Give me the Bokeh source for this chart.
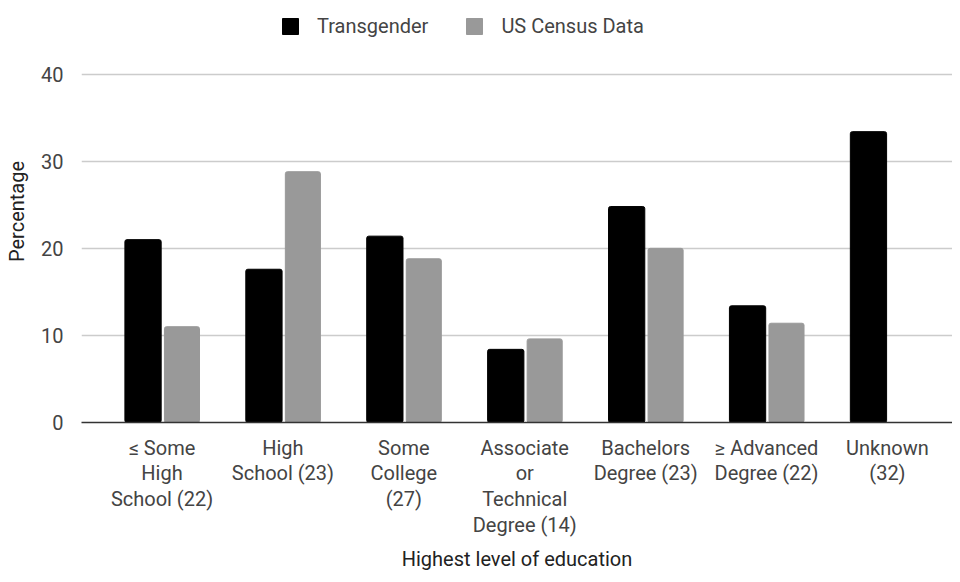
import numpy as np
from bokeh.plotting import figure
from bokeh.models import Range1d, FixedTicker, Legend, LegendItem, ColumnDataSource
from bokeh.embed import file_html
from bokeh.resources import INLINE

categories = ["≤ Some\nHigh\nSchool (22)", "High\nSchool (23)", "Some\nCollege\n(27)",
              "Associate\nor\nTechnical\nDegree (14)", "Bachelors\nDegree (23)",
              "≥ Advanced\nDegree (22)", "Unknown\n(32)"]
transgender = [21.0, 17.6, 21.4, 8.4, 24.8, 13.4, 33.4]
census = [11.0, 28.8, 18.8, 9.6, 20.0, 11.4, None]
y_ticks = [0, 10, 20, 30, 40]

FONT = "Roboto"
idx = np.arange(len(categories), dtype=float)

# frame spans the full top (legend sits inside it, above the 40 gridline)
p = figure(width=952, height=574, output_backend="svg", toolbar_location=None,
           x_range=Range1d(-0.666, 6.538), y_range=Range1d(0, 48.46),
           min_border_left=81, min_border_right=0, min_border_top=0, min_border_bottom=150)
p.outline_line_color = None

src_t = ColumnDataSource(dict(x=idx - 0.157, top=transgender))
src_c = ColumnDataSource(dict(x=idx + 0.165, top=np.array(census, dtype=float)))
r_t = p.vbar(x="x", top="top", bottom=0, width=0.30, source=src_t,
             fill_color="#000000", line_color="#000000", border_radius=2)
r_c = p.vbar(x="x", top="top", bottom=0, width=0.29, source=src_c,
             fill_color="#999999", line_color="#999999", border_radius=2)

# axes
p.xaxis.ticker = FixedTicker(ticks=list(range(len(categories))))
p.xaxis.major_label_overrides = {i: c for i, c in enumerate(categories)}
p.xaxis.major_tick_line_color = None
p.xaxis.minor_tick_line_color = None
p.xaxis.axis_line_color = "#333333"
p.xaxis.axis_line_width = 1.5
p.xaxis.major_label_text_font = FONT
p.xaxis.major_label_text_font_size = "20px"
p.xaxis.major_label_text_color = "#444444"
p.xaxis.major_label_text_line_height = 1.08
p.xaxis.major_label_standoff = 7
p.xaxis.axis_label = "Highest level of education"
p.xaxis.axis_label_text_font = FONT
p.xaxis.axis_label_text_font_size = "20px"
p.xaxis.axis_label_text_font_style = "normal"
p.xaxis.axis_label_text_color = "#222222"
p.xaxis.axis_label_standoff = 7

p.yaxis.ticker = FixedTicker(ticks=y_ticks)
p.yaxis.axis_line_color = None
p.yaxis.major_tick_line_color = None
p.yaxis.minor_tick_line_color = None
p.yaxis.major_label_text_font = FONT
p.yaxis.major_label_text_font_size = "20px"
p.yaxis.major_label_text_color = "#444444"
p.yaxis.major_label_standoff = 12
p.yaxis.axis_label = "Percentage"
p.yaxis.axis_label_text_font = FONT
p.yaxis.axis_label_text_font_size = "20px"
p.yaxis.axis_label_text_font_style = "normal"
p.yaxis.axis_label_text_color = "#222222"
p.yaxis.axis_label_standoff = 9

p.xgrid.grid_line_color = None
p.ygrid.grid_line_color = "#cccccc"
p.ygrid.grid_line_width = 1.5

legend = Legend(items=[LegendItem(label="Transgender", renderers=[r_t]),
                       LegendItem(label="US Census Data", renderers=[r_c])],
                orientation="horizontal", location=(199, 384),
                label_text_font=FONT, label_text_font_size="20px",
                label_text_color="#444444", glyph_width=20, glyph_height=20,
                spacing=36, padding=6, margin=0, border_line_color=None,
                background_fill_alpha=0, label_standoff=17)
p.add_layout(legend, "center")

open("out.html", "w").write(file_html(p, INLINE))
